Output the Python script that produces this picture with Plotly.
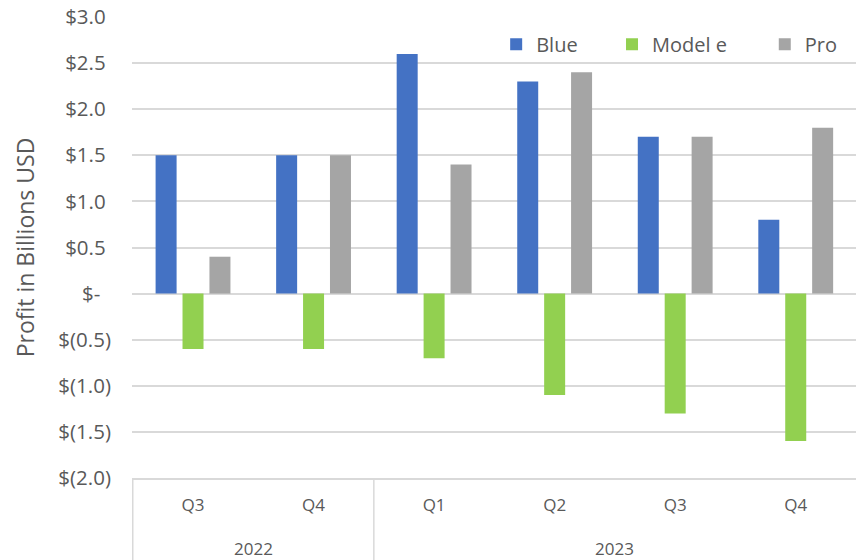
import plotly.graph_objects as go

years = ["2022", "2022", "2023", "2023", "2023", "2023"]
quarters = ["Q3", "Q4", "Q1", "Q2", "Q3", "Q4"]
blue = [1.5, 1.5, 2.6, 2.3, 1.7, 0.8]
model_e = [-0.6, -0.6, -0.7, -1.1, -1.3, -1.6]
pro = [0.4, 1.5, 1.4, 2.4, 1.7, 1.8]
NB = "\u00a0"
tick_vals = [3.0, 2.5, 2.0, 1.5, 1.0, 0.5, 0.0, -0.5, -1.0, -1.5, -2.0]
tick_text = ["$3.0" + NB, "$2.5" + NB, "$2.0" + NB, "$1.5" + NB, "$1.0" + NB,
             "$0.5" + NB, "$-" + NB + NB,
             "$(0.5)", "$(1.0)", "$(1.5)", "$(2.0)"]

FONT = "Open Sans"
GRAY = "#595959"
GRID = "#d9d9d9"

cats = [f"{y} {q}" for y, q in zip(years, quarters)]

fig = go.Figure()
series = [("Blue", blue, "#4472C4", "legend", 0.503),
          ("Model e", model_e, "#92D050", "legend2", 0.663),
          ("Pro", pro, "#A5A5A5", "legend3", 0.874)]
for name, vals, col, lg, _ in series:
    fig.add_trace(go.Bar(name=name, x=cats, y=vals, legend=lg,
                         marker=dict(color=col, line=dict(width=0))))

legend_common = dict(orientation="h", xanchor="left", y=0.941, yanchor="middle",
                     font=dict(size=20, color=GRAY, family=FONT),
                     bgcolor="rgba(0,0,0,0)", itemwidth=30)
legends = {}
for name, vals, col, lg, lx in series:
    legends[lg] = dict(x=lx, **legend_common)

# year group labels and dividers, from category positions
shapes = []
annotations = []
uniq_years = []
for y in years:
    if y not in uniq_years:
        uniq_years.append(y)
for y in uniq_years:
    idx = [i for i, yy in enumerate(years) if yy == y]
    annotations.append(dict(x=(idx[0] + idx[-1]) / 2, xref="x", y=-0.152, yref="paper",
                            text=y, showarrow=False, yanchor="middle",
                            font=dict(size=17, color=GRAY, family=FONT)))
    shapes.append(dict(type="line", xref="x", yref="paper", x0=idx[0] - 0.5, x1=idx[0] - 0.5,
                       y0=0, y1=-0.2, line=dict(color=GRID, width=1.5)))

fig.update_layout(
    width=856, height=560,
    margin=dict(l=132, r=0, t=17, b=82),
    paper_bgcolor="white", plot_bgcolor="white",
    barmode="group", bargap=0.33, bargroupgap=0.22,
    font=dict(family=FONT, color=GRAY, size=16),
    showlegend=True,
    shapes=shapes, annotations=annotations,
    xaxis=dict(type="category", tickvals=cats, ticktext=quarters,
               showline=True, linecolor=GRID, linewidth=1.5,
               tickfont=dict(size=17, color=GRAY), ticks="", ticklabelstandoff=11,
               showgrid=False),
    yaxis=dict(range=[-2, 3], tickvals=tick_vals, ticktext=tick_text,
               showgrid=True, gridcolor=GRID, gridwidth=1.5,
               zeroline=True, zerolinecolor=GRID, zerolinewidth=1.5,
               tickfont=dict(size=20.5, color=GRAY), ticks="", ticklabelstandoff=20,
               title=dict(text="Profit in Billions USD", font=dict(size=23, color=GRAY),
                          standoff=17)),
    **legends,
)
fig.write_html("out.html")
